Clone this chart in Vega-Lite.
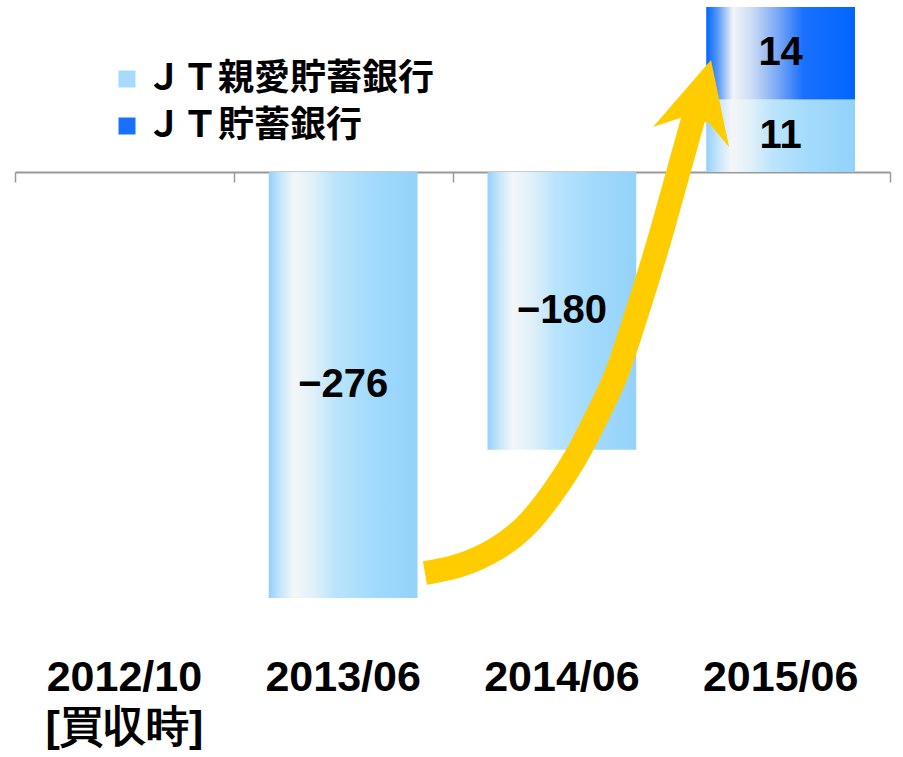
{
  "$schema": "https://vega.github.io/schema/vega-lite/v6.json",
  "width": 875,
  "height": 620,
  "autosize": {"type": "none"},
  "padding": {"left": 15, "top": 7, "right": 13, "bottom": 130},
  "background": "white",
  "title": {"text": "単位：億ウォン", "anchor": "start", "orient": "top", "frame": "group", "offset": 7, "baseline": "alphabetic", "fontSize": 30, "font": "Noto Sans CJK JP", "fontWeight": "bold", "color": "black", "dx": 5},
  "config": {"view": {"stroke": null}},
  "datasets": {
    "bars": [
      {"period": "2013/06", "bank": "ＪＴ親愛貯蓄銀行", "value": -276},
      {"period": "2014/06", "bank": "ＪＴ親愛貯蓄銀行", "value": -180},
      {"period": "2015/06", "bank": "ＪＴ親愛貯蓄銀行", "value": 11},
      {"period": "2015/06", "bank": "ＪＴ貯蓄銀行", "value": 14}
    ],
    "arrow": [
      {"ax": 1.874, "ay": -259.8},
      {"ax": 2.034, "ay": -255.9},
      {"ax": 2.203, "ay": -244.9},
      {"ax": 2.341, "ay": -230.0},
      {"ax": 2.459, "ay": -208.0},
      {"ax": 2.569, "ay": -184.7},
      {"ax": 2.674, "ay": -154.2},
      {"ax": 2.743, "ay": -134.8},
      {"ax": 2.811, "ay": -105.6},
      {"ax": 2.894, "ay": -68.7},
      {"ax": 2.962, "ay": -36.3},
      {"ax": 3.026, "ay": -3.2},
      {"ax": 3.086, "ay": 6.36},
      {"ax": 3.118, "ay": 10.15}
    ],
    "head": [{"hx": 3.121, "hy": 9.2}]
  },
  "layer": [
    {
      "data": {"name": "bars"},
      "transform": [
        {"stack": "value", "groupby": ["period"], "sort": [{"field": "bank"}], "as": ["v0", "v1"]}
      ],
      "encoding": {
        "x": {
          "field": "period", "type": "nominal", "sort": null,
          "scale": {"domain": ["2012/10", "2013/06", "2014/06", "2015/06"], "paddingInner": 0.32, "paddingOuter": 0.16},
          "axis": {
            "title": null, "orient": "bottom", "offset": -455, "domain": false, "ticks": false,
            "labelPadding": 484, "labelFont": "Liberation Sans", "labelFontSize": 43, "labelFontWeight": "bold",
            "labelColor": "black", "labelBaseline": "top", "labelAngle": 0, "labelLineHeight": 50, "labelLimit": 0,
            "labelExpr": "datum.value === '2012/10' ? ['2012/10', '[買収時]'] : datum.value"
          }
        }
      },
      "layer": [
        {
          "transform": [{"filter": "datum.bank === 'ＪＴ親愛貯蓄銀行'"}],
          "mark": {"type": "bar", "strokeWidth": 0,
            "color": {"gradient": "linear", "x1": 0, "y1": 0, "x2": 1, "y2": 0, "stops": [
              {"offset": 0, "color": "#94D0F9"},
              {"offset": 0.08, "color": "#C6E6FA"},
              {"offset": 0.17, "color": "#F4F6F8"},
              {"offset": 0.3, "color": "#E0F0F9"},
              {"offset": 0.45, "color": "#BAE4FC"},
              {"offset": 0.7, "color": "#A2DAFC"},
              {"offset": 1, "color": "#94D2FA"}
            ]}},
          "encoding": {
            "y": {"field": "v0", "type": "quantitative",
              "scale": {"domain": [-276, 0, 25], "range": [591, 165, 0], "nice": false, "zero": false}, "axis": null},
            "y2": {"field": "v1"}
          }
        },
        {
          "transform": [{"filter": "datum.bank === 'ＪＴ貯蓄銀行'"}],
          "mark": {"type": "bar", "strokeWidth": 0,
            "color": {"gradient": "linear", "x1": 0, "y1": 0, "x2": 1, "y2": 0, "stops": [
              {"offset": 0, "color": "#0066FF"},
              {"offset": 0.08, "color": "#5B9BF8"},
              {"offset": 0.18, "color": "#F2F4F6"},
              {"offset": 0.32, "color": "#C6D8F6"},
              {"offset": 0.5, "color": "#6FA2F6"},
              {"offset": 0.65, "color": "#1A70FE"},
              {"offset": 1, "color": "#0066FF"}
            ]}},
          "encoding": {
            "y": {"field": "v0", "type": "quantitative",
              "scale": {"domain": [-276, 0, 25], "range": [591, 165, 0], "nice": false, "zero": false}, "axis": null},
            "y2": {"field": "v1"}
          }
        },
        {
          "mark": {"type": "square", "size": 0, "opacity": 1, "filled": true},
          "encoding": {
            "y": {"field": "v0", "type": "quantitative",
              "scale": {"domain": [-276, 0, 25], "range": [591, 165, 0], "nice": false, "zero": false}, "axis": null},
            "color": {
              "field": "bank", "type": "nominal",
              "scale": {"domain": ["ＪＴ親愛貯蓄銀行", "ＪＴ貯蓄銀行"], "range": ["#A6DBFB", "#1A70FE"]},
              "legend": {
                "title": null, "orient": "none", "legendX": 94, "legendY": 54, "direction": "vertical",
                "symbolType": "square", "symbolSize": 289, "symbolStrokeWidth": 0, "symbolOpacity": 1,
                "labelFont": "Noto Sans CJK JP", "labelFontSize": 36, "labelFontWeight": "bold", "labelColor": "black",
                "labelOffset": 1, "rowPadding": 11, "padding": 0, "labelLimit": 0
              }
            }
          }
        },
        {
          "transform": [
            {"fold": ["v0", "v1"], "as": ["k", "pos"]}
          ],
          "mark": {"type": "text", "font": "Liberation Sans", "fontSize": 40, "fontWeight": "bold", "color": "black", "baseline": "middle", "align": "center"},
          "encoding": {
            "y": {"field": "pos", "aggregate": "mean", "type": "quantitative",
              "scale": {"domain": [-276, 0, 25], "range": [591, 165, 0], "nice": false, "zero": false}, "axis": null},
            "detail": {"field": "bank", "type": "nominal"},
            "text": {"field": "value", "aggregate": "max", "type": "quantitative", "format": "d"}
          }
        }
      ]
    },
    {
      "data": {"name": "arrow"},
      "mark": {"type": "line", "color": "#FFCC00", "strokeWidth": 24, "interpolate": "basis", "strokeCap": "butt"},
      "encoding": {
        "x": {"field": "ax", "type": "quantitative", "scale": {"domain": [0, 4], "nice": false, "zero": false},
          "axis": {"values": [0, 1, 2, 3, 4], "labels": false, "title": null, "grid": false, "orient": "bottom", "offset": -455,
            "domainColor": "#999999", "domainWidth": 2, "tickColor": "#999999", "tickWidth": 1.5, "tickSize": 10}},
        "y": {"field": "ay", "type": "quantitative",
          "scale": {"domain": [-276, 0, 25], "range": [591, 165, 0], "nice": false, "zero": false}, "axis": null}
      }
    },
    {
      "data": {"name": "head"},
      "mark": {"type": "point", "filled": true, "color": "#FFCC00", "opacity": 1, "strokeWidth": 0, "size": 4,
        "shape": "M13.3,-51.3L31.3,35.7L11.3,11.7L-14.7,5.7L-44.7,15.7Z"},
      "encoding": {
        "x": {"field": "hx", "type": "quantitative", "scale": {"domain": [0, 4], "nice": false, "zero": false}, "axis": null},
        "y": {"field": "hy", "type": "quantitative",
          "scale": {"domain": [-276, 0, 25], "range": [591, 165, 0], "nice": false, "zero": false}, "axis": null}
      }
    }
  ],
  "resolve": {"scale": {"x": "independent"}}
}
